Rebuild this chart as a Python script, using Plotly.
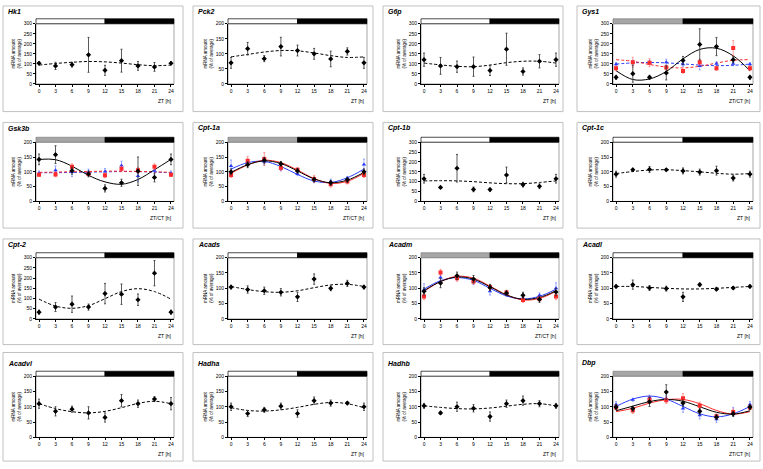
import plotly.graph_objects as go

W, H = 763, 469

ZT = [0, 3, 6, 9, 12, 15, 18, 21, 24]

# ---- single-series panels: mean, error, cosine fit (read at the same ZT points)
HK1_MEAN = [103, 90, 96, 145, 68, 116, 90, 85, 103]
HK1_ERR = [8, 18, 12, 87, 25, 57, 22, 22, 8]
HK1_FIT = [94, 102, 108, 112, 110, 104, 96, 91, 94]

PCK2_MEAN = [70, 117, 84, 124, 111, 100, 83, 108, 70]
PCK2_ERR = [18, 21, 10, 31, 18, 18, 26, 12, 18]
PCK2_FIT = [90, 98, 106, 111, 110, 103, 94, 88, 90]

G6P_MEAN = [121, 90, 86, 86, 67, 173, 62, 113, 121]
G6P_ERR = [33, 42, 28, 48, 25, 80, 18, 33, 33]
G6P_FIT = [104, 95, 88, 86, 94, 106, 113, 113, 104]

CPT1B_MEAN = [115, 71, 168, 61, 60, 134, 85, 77, 115]
CPT1B_ERR = [22, 5, 70, 12, 8, 40, 12, 12, 22]
CPT1B_FIT = [104, 105, 104, 100, 94, 90, 90, 96, 104]

CPT1C_MEAN = [92, 107, 108, 107, 103, 99, 104, 79, 92]
CPT1C_ERR = [10, 5, 10, 4, 10, 10, 15, 10, 10]
CPT1C_FIT = [94, 101, 106, 107, 104, 100, 95, 92, 94]

CPT2_MEAN = [33, 58, 72, 58, 124, 121, 94, 224, 33]
CPT2_ERR = [10, 22, 40, 15, 50, 50, 28, 62, 10]
CPT2_FIT = [97, 63, 52, 65, 99, 134, 148, 134, 97]

ACADS_MEAN = [104, 96, 92, 87, 72, 130, 100, 116, 104]
ACADS_ERR = [6, 12, 12, 12, 15, 17, 8, 10, 6]
ACADS_FIT = [106, 96, 89, 87, 92, 102, 111, 113, 106]

ACADL_MEAN = [106, 112, 101, 99, 72, 112, 97, 101, 106]
ACADL_ERR = [5, 15, 8, 8, 15, 5, 5, 5, 5]
ACADL_FIT = [106, 106, 103, 100, 98, 98, 100, 103, 106]

ACADVL_MEAN = [110, 85, 92, 80, 65, 120, 110, 125, 110]
ACADVL_ERR = [15, 15, 10, 20, 15, 20, 12, 8, 20]
ACADVL_FIT = [110, 94, 84, 80, 85, 97, 111, 118, 110]

HADHA_MEAN = [100, 78, 90, 102, 78, 120, 112, 112, 100]
HADHA_ERR = [12, 10, 8, 10, 12, 12, 10, 5, 12]
HADHA_FIT = [97, 88, 86, 90, 98, 108, 114, 110, 97]

HADHB_MEAN = [103, 80, 100, 95, 68, 110, 120, 110, 103]
HADHB_ERR = [8, 5, 15, 12, 15, 12, 15, 10, 8]
HADHB_FIT = [103, 98, 94, 93, 96, 102, 108, 110, 103]

# ---- three-series panels (black / blue / red)
GYS1_K_MEAN = [33, 51, 33, 55, 117, 197, 186, 121, 33]
GYS1_K_ERR = [10, 42, 10, 35, 20, 78, 45, 15, 10]
GYS1_K_FIT = [66, 22, 25, 62, 125, 172, 178, 140, 66]
GYS1_B_MEAN = [98, 108, 108, 108, 98, 90, 101, 101, 98]
GYS1_B_ERR = [8, 10, 10, 15, 10, 20, 10, 10, 8]
GYS1_B_FIT = [99, 105, 107, 105, 100, 94, 91, 93, 99]
GYS1_R_MEAN = [78, 108, 106, 82, 64, 108, 78, 179, 78]
GYS1_R_ERR = [12, 25, 20, 12, 10, 15, 10, 38, 12]
GYS1_R_FIT = [121, 113, 97, 84, 80, 88, 104, 118, 121]

GSK3B_K_MEAN = [142, 158, 104, 93, 44, 63, 102, 81, 142]
GSK3B_K_ERR = [18, 30, 12, 10, 12, 12, 48, 15, 18]
GSK3B_K_FIT = [142, 141, 119, 88, 66, 58, 74, 107, 142]
GSK3B_B_MEAN = [95, 105, 99, 99, 101, 121, 86, 104, 95]
GSK3B_B_ERR = [8, 15, 15, 10, 10, 15, 20, 12, 8]
GSK3B_B_FIT = [97, 97, 98, 99, 100, 101, 101, 99, 97]
GSK3B_R_MEAN = [90, 91, 117, 93, 88, 110, 105, 117, 90]
GSK3B_R_ERR = [5, 8, 10, 8, 8, 10, 10, 10, 5]
GSK3B_R_FIT = [98, 99, 100, 101, 102, 102, 101, 100, 98]

CPT1A_K_MEAN = [100, 124, 139, 127, 103, 74, 63, 73, 100]
CPT1A_K_ERR = [10, 10, 10, 8, 8, 8, 8, 8, 10]
CPT1A_K_FIT = [98, 124, 137, 128, 103, 76, 63, 72, 98]
CPT1A_B_MEAN = [120, 133, 134, 111, 93, 71, 67, 78, 125]
CPT1A_B_ERR = [20, 10, 10, 8, 6, 8, 8, 6, 18]
CPT1A_B_FIT = [109, 131, 135, 118, 91, 69, 64, 80, 109]
CPT1A_R_MEAN = [89, 137, 143, 114, 107, 76, 58, 67, 89]
CPT1A_R_ERR = [8, 15, 22, 10, 8, 12, 10, 8, 8]
CPT1A_R_FIT = [95, 123, 139, 131, 106, 77, 61, 68, 95]

ACADM_K_MEAN = [90, 117, 141, 130, 103, 84, 77, 64, 88]
ACADM_K_ERR = [12, 15, 12, 12, 10, 8, 10, 10, 12]
ACADM_K_FIT = [92, 122, 137, 130, 105, 78, 64, 70, 92]
ACADM_B_MEAN = [95, 135, 135, 122, 90, 82, 68, 77, 100]
ACADM_B_ERR = [20, 10, 8, 10, 12, 8, 8, 8, 18]
ACADM_B_FIT = [97, 125, 135, 126, 100, 75, 65, 74, 97]
ACADM_R_MEAN = [73, 152, 133, 122, 104, 86, 62, 66, 73]
ACADM_R_ERR = [10, 10, 10, 8, 8, 8, 8, 8, 10]
ACADM_R_FIT = [90, 122, 139, 133, 107, 79, 62, 67, 90]

DBP_K_MEAN = [99, 94, 116, 148, 112, 85, 66, 77, 99]
DBP_K_ERR = [8, 8, 15, 24, 10, 10, 8, 8, 8]
DBP_K_FIT = [87, 102, 117, 124, 118, 100, 82, 76, 87]
DBP_B_MEAN = [107, 123, 130, 126, 94, 72, 59, 83, 107]
DBP_B_ERR = [10, 5, 8, 10, 12, 12, 10, 15, 10]
DBP_B_FIT = [101, 125, 135, 125, 101, 77, 67, 77, 101]
DBP_R_MEAN = [98, 88, 123, 121, 128, 103, 69, 83, 98]
DBP_R_ERR = [8, 10, 10, 10, 15, 12, 8, 10, 8]
DBP_R_FIT = [84, 95, 112, 123, 124, 110, 88, 76, 84]

BLACK, BLUE, RED = "#000000", "#2a3cff", "#ff2a2a"
ERR_COL = {BLACK: "#303030", BLUE: "rgba(60,80,255,0.6)", RED: "rgba(255,60,60,0.6)"}
DASH = "3px,2px"

def one(mean, err, fit):
    return [(mean, err, BLACK, "diamond")], [(fit, BLACK, DASH)]

def three(km, ke, kf, bm, be, bf, rm, re_, rf, kdash="solid", cdash="solid"):
    pts = [(bm, be, BLUE, "triangle-up"), (rm, re_, RED, "square"), (km, ke, BLACK, "diamond")]
    fits = [(bf, BLUE, cdash), (rf, RED, cdash), (kf, BLACK, kdash)]
    return pts, fits

panels = [
    ("Hk1", 300, False, *one(HK1_MEAN, HK1_ERR, HK1_FIT)),
    ("Pck2", 200, False, *one(PCK2_MEAN, PCK2_ERR, PCK2_FIT)),
    ("G6p", 300, False, *one(G6P_MEAN, G6P_ERR, G6P_FIT)),
    ("Gys1", 300, True, *three(GYS1_K_MEAN, GYS1_K_ERR, GYS1_K_FIT, GYS1_B_MEAN, GYS1_B_ERR, GYS1_B_FIT,
                               GYS1_R_MEAN, GYS1_R_ERR, GYS1_R_FIT, "solid", DASH)),
    ("Gsk3b", 200, True, *three(GSK3B_K_MEAN, GSK3B_K_ERR, GSK3B_K_FIT, GSK3B_B_MEAN, GSK3B_B_ERR, GSK3B_B_FIT,
                                GSK3B_R_MEAN, GSK3B_R_ERR, GSK3B_R_FIT, "solid", DASH)),
    ("Cpt-1a", 200, True, *three(CPT1A_K_MEAN, CPT1A_K_ERR, CPT1A_K_FIT, CPT1A_B_MEAN, CPT1A_B_ERR, CPT1A_B_FIT,
                                 CPT1A_R_MEAN, CPT1A_R_ERR, CPT1A_R_FIT)),
    ("Cpt-1b", 300, False, *one(CPT1B_MEAN, CPT1B_ERR, CPT1B_FIT)),
    ("Cpt-1c", 200, False, *one(CPT1C_MEAN, CPT1C_ERR, CPT1C_FIT)),
    ("Cpt-2", 300, False, *one(CPT2_MEAN, CPT2_ERR, CPT2_FIT)),
    ("Acads", 200, False, *one(ACADS_MEAN, ACADS_ERR, ACADS_FIT)),
    ("Acadm", 200, True, *three(ACADM_K_MEAN, ACADM_K_ERR, ACADM_K_FIT, ACADM_B_MEAN, ACADM_B_ERR, ACADM_B_FIT,
                                ACADM_R_MEAN, ACADM_R_ERR, ACADM_R_FIT)),
    ("Acadl", 200, False, *one(ACADL_MEAN, ACADL_ERR, ACADL_FIT)),
    ("Acadvl", 200, False, *one(ACADVL_MEAN, ACADVL_ERR, ACADVL_FIT)),
    ("Hadha", 200, False, *one(HADHA_MEAN, HADHA_ERR, HADHA_FIT)),
    ("Hadhb", 200, False, *one(HADHB_MEAN, HADHB_ERR, HADHB_FIT)),
    ("Dbp", 200, True, *three(DBP_K_MEAN, DBP_K_ERR, DBP_K_FIT, DBP_B_MEAN, DBP_B_ERR, DBP_B_FIT,
                              DBP_R_MEAN, DBP_R_ERR, DBP_R_FIT)),
]

# pixel geometry of the 4x4 grid
COL_BOX = [(3, 183), (193, 373), (383, 563), (577, 760)]
COL_PLOT = [(36, 174), (228, 367), (421, 559), (613, 753)]
ROW_BOX = [(3, 110), (121, 228), (239, 346), (354, 464)]
ROW_PLOT = [(21, 82), (141, 201), (258, 320), (378, 440)]
ROW_TITLE = [9, 127, 245, 365]
BAR_H = 5

FONT = "Liberation Sans, Arial, sans-serif"

fig = go.Figure()
shapes, annotations = [], []
layout = {}

for i, (title, ymax, ctmode, pts, fits) in enumerate(panels):
    r, c = divmod(i, 4)
    k = i + 1
    xs = "x" if k == 1 else f"x{k}"
    ys = "y" if k == 1 else f"y{k}"
    xl, xr = COL_PLOT[c]
    yt, yb = ROW_PLOT[r]

    layout["xaxis" if k == 1 else f"xaxis{k}"] = dict(
        domain=[xl / W, xr / W], anchor=ys, range=[-0.55, 24.55],
        tickvals=ZT, ticks="outside", ticklen=2, tickwidth=0.8, tickcolor="black",
        tickfont=dict(size=5, family=FONT, color="black"),
        showline=True, linecolor="black", linewidth=0.8,
        showgrid=False, zeroline=False, fixedrange=True)
    layout["yaxis" if k == 1 else f"yaxis{k}"] = dict(
        domain=[1 - yb / H, 1 - yt / H], anchor=xs, range=[0, ymax],
        tickvals=list(range(0, ymax + 1, 50)), ticks="outside", ticklen=2, tickwidth=0.8,
        tickcolor="black", tickfont=dict(size=5, family=FONT, color="black"),
        showline=True, linecolor="black", linewidth=0.8,
        showgrid=False, zeroline=False, fixedrange=True,
        title=dict(text="mRNA amount<br>(% of average)", standoff=2,
                   font=dict(size=4.5, family=FONT, color="black")))

    # panel border
    bl, br = COL_BOX[c]
    bt, bb = ROW_BOX[r]
    shapes.append(dict(type="rect", xref="paper", yref="paper",
                       x0=bl / W, x1=br / W, y0=1 - bb / H, y1=1 - bt / H,
                       line=dict(color="#c0c0c0", width=1), fillcolor="rgba(0,0,0,0)", layer="below"))
    # plot-area frame
    shapes.append(dict(type="rect", xref=f"{xs} domain", yref=f"{ys} domain",
                       x0=0, x1=1, y0=0, y1=1, line=dict(color="#909090", width=0.8), layer="below"))
    # light / dark bar
    bh = BAR_H / (yb - yt)
    shapes.append(dict(type="rect", xref=f"{xs} domain", yref=f"{ys} domain",
                       x0=0, x1=0.5, y0=1, y1=1 + bh,
                       fillcolor="#a6a6a6" if ctmode else "white",
                       line=dict(color="#808080" if ctmode else "black", width=0.7)))
    shapes.append(dict(type="rect", xref=f"{xs} domain", yref=f"{ys} domain",
                       x0=0.5, x1=1, y0=1, y1=1 + bh, fillcolor="black",
                       line=dict(color="black", width=0.7)))

    annotations.append(dict(text=f"<b><i>{title}</i></b>", xref="paper", yref="paper",
                            x=(bl + 3) / W, y=1 - ROW_TITLE[r] / H, xanchor="left", yanchor="middle",
                            showarrow=False, font=dict(size=7, family=FONT, color="black")))
    annotations.append(dict(text="ZT/CT [h]" if ctmode else "ZT [h]", xref="paper", yref="paper",
                            x=xr / W, y=1 - (yb + 17) / H, xanchor="right", yanchor="middle",
                            showarrow=False, font=dict(size=5, family=FONT, color="black")))

    for fit, col, dash in fits:
        fig.add_trace(go.Scatter(x=ZT, y=fit, mode="lines", xaxis=xs, yaxis=ys,
                                 line=dict(color=col, width=1, dash=dash, shape="spline"),
                                 hoverinfo="skip"))
    for mean, err, col, sym in pts:
        fig.add_trace(go.Scatter(x=ZT, y=mean, mode="markers", xaxis=xs, yaxis=ys,
                                 marker=dict(color=col, symbol=sym, size=4),
                                 error_y=dict(type="data", array=err, color=ERR_COL[col],
                                              thickness=0.8, width=1)))

fig.update_layout(**layout)
fig.update_layout(width=W, height=H, margin=dict(l=0, r=0, t=0, b=0),
                  paper_bgcolor="white", plot_bgcolor="white", showlegend=False,
                  shapes=shapes, annotations=annotations)

# page body margin would shift the fixed-size figure
fig.write_html("out.html", config={"displayModeBar": False},
               post_script="document.body.style.margin='0';document.body.style.overflow='hidden';")
